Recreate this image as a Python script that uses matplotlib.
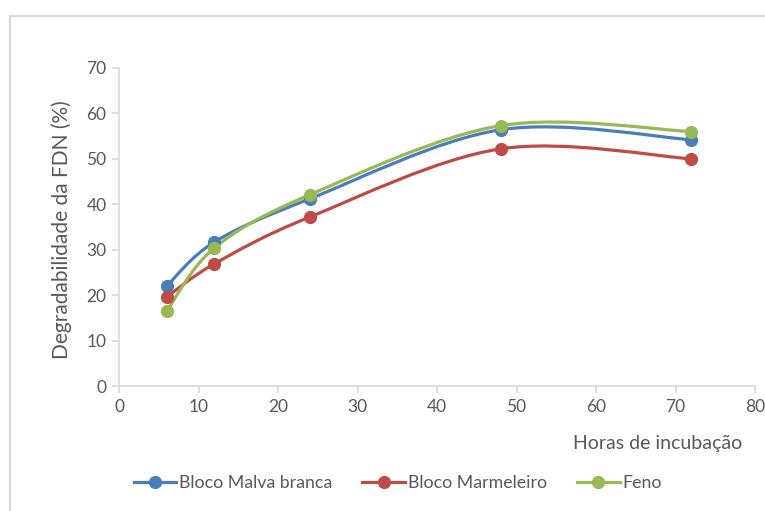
import matplotlib
matplotlib.use("Agg")
import matplotlib.pyplot as plt
from matplotlib.path import Path
from matplotlib.patches import PathPatch, Rectangle
from matplotlib.lines import Line2D
import numpy as np

plt.rcParams['font.family'] = ['Lato', 'DejaVu Sans']

horas = [6, 12, 24, 48, 72]
malva = [22.0, 31.7, 41.2, 56.4, 54.2]
marmeleiro = [19.6, 26.9, 37.2, 52.2, 50.0]
feno = [16.5, 30.4, 42.1, 57.3, 56.0]

series = [
    ("Bloco Malva branca", malva, "#4a7ebb"),
    ("Bloco Marmeleiro", marmeleiro, "#be4b48"),
    ("Feno", feno, "#98b954"),
]

axis_col = "#d9d9d9"
text_col = "#595959"


def smooth_path(x, y):
    # bezier segments like a spreadsheet "smoothed line"
    p = np.column_stack([x, y]).astype(float)
    n = len(p)
    verts = [p[0]]
    codes = [Path.MOVETO]
    for i in range(n - 1):
        p0 = p[i - 1] if i > 0 else p[i]
        p1 = p[i]
        p2 = p[i + 1]
        p3 = p[i + 2] if i + 2 < n else p[i + 1]
        c1 = p1 + (p2 - p0) / 6.0
        c2 = p2 - (p3 - p1) / 6.0
        verts += [c1, c2, p2]
        codes += [Path.CURVE4] * 3
    return Path(verts, codes)


fig = plt.figure(figsize=(7.65, 5.11), dpi=100)
ax = fig.add_axes([0.1556, 0.2446, 0.8314, 0.6224])

for name, vals, col in series:
    ax.add_patch(PathPatch(smooth_path(horas, vals), facecolor="none",
                           edgecolor=col, lw=2.3, capstyle="round", zorder=2))
    ax.plot(horas, vals, "o", color=col, ms=8.5, zorder=3)

ax.set_xlim(0, 80)
ax.set_ylim(0, 70)
ax.set_xticks(range(0, 81, 10))
ax.set_yticks(range(0, 71, 10))
for s in ["top", "right"]:
    ax.spines[s].set_visible(False)
for s in ["left", "bottom"]:
    ax.spines[s].set_color(axis_col)
    ax.spines[s].set_linewidth(1.2)
ax.tick_params(colors=axis_col, labelcolor=text_col, labelsize=12.5,
               length=5, width=1.2, direction="out", pad=4)

fig.text(0.97, 0.133, "Horas de incubação", ha="right", va="center",
         fontsize=14, color=text_col)
fig.text(0.081, 0.55, "Degradabilidade da FDN (%)", ha="center", va="center",
         rotation=90, fontsize=15, color=text_col)

handles = [Line2D([], [], color=col, lw=2.3, marker="o", ms=8.5)
           for _, _, col in series]
fig.legend(handles, [s[0] for s in series], loc="center",
           bbox_to_anchor=(0.52, 0.055), ncol=3, frameon=False,
           fontsize=12.8, labelcolor=text_col, handlelength=2.4,
           handletextpad=0.15, columnspacing=1.7)

# outer frame of the chart area
fig.patches.append(Rectangle((10 / 765, -0.05), 1.0, (511 - 16) / 511 + 0.05,
                             transform=fig.transFigure, fill=False,
                             edgecolor=axis_col, lw=1.5))

fig.savefig("out.png", dpi=100)
